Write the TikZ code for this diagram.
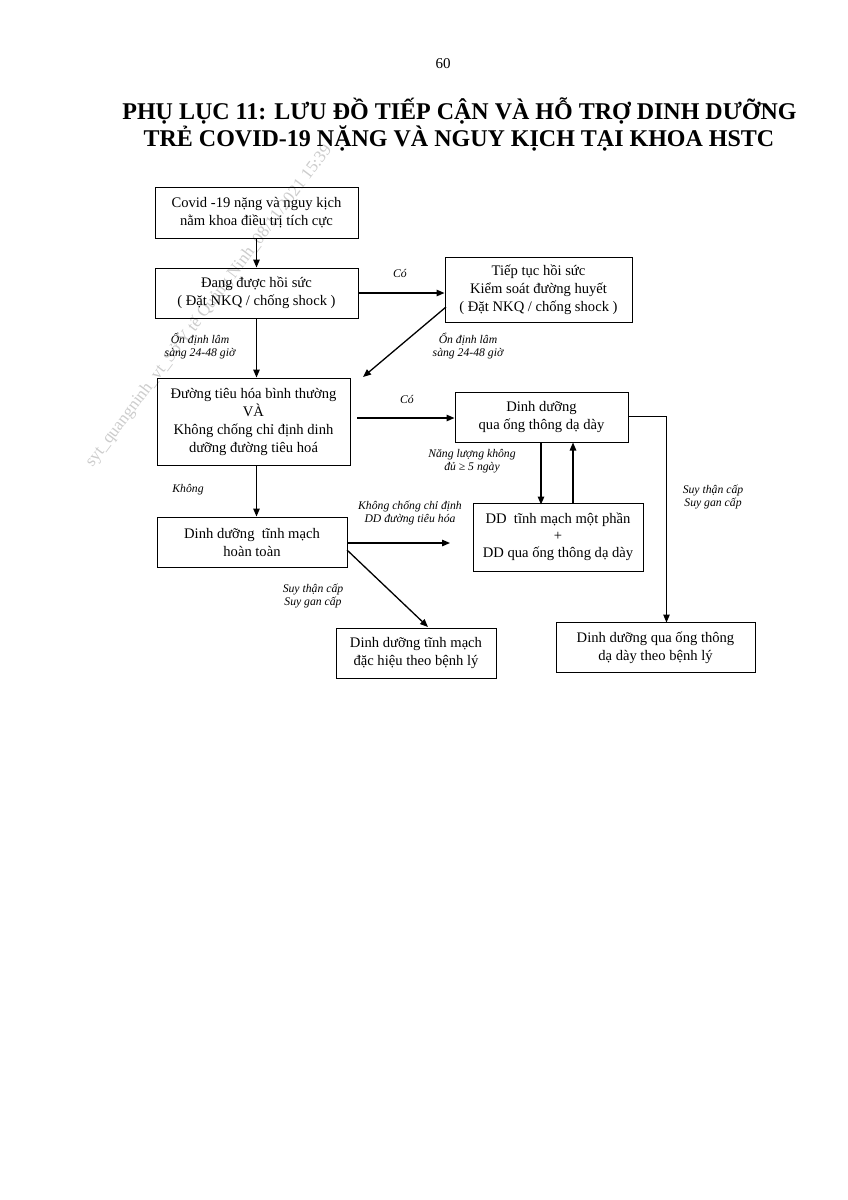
\documentclass[tikz,border=0pt]{standalone}
\usepackage{fontspec}
\setmainfont{Liberation Serif}
\usetikzlibrary{arrows.meta}
\begin{document}
\begin{tikzpicture}[x=1pt,y=-1pt,
  box/.style={draw,line width=1pt,inner sep=0pt,align=center,font=\fontsize{14.6}{18}\selectfont},
  lbl/.style={align=center,inner sep=0pt,font=\fontsize{11.7}{13.5}\selectfont\itshape},
  arr/.style={line width=1.3pt,-{Triangle[length=8pt,width=6.5pt]}},
  thin arr/.style={line width=1pt,-{Triangle[length=8pt,width=6.5pt]}}]
\useasboundingbox (0,0) rectangle (848,1200);
\fill[white] (0,0) rectangle (848,1200);
% watermark
\node[rotate=53,text=gray!40,font=\fontsize{17}{19}\selectfont] (wm) at (209,306) {syt\_quangninh\_vt\_Sở Y tế Quảng Ninh\_08/11/2021 15:39};
% page number and title
\node[anchor=base,font=\fontsize{15}{18}\selectfont] (pg) at (443,68) {60};
\node[anchor=base,font=\fontsize{24}{27}\selectfont\bfseries] (t1) at (459.5,119) {PHỤ LỤC 11: LƯU ĐỒ TIẾP CẬN VÀ HỖ TRỢ DINH DƯỠNG};
\node[anchor=base,font=\fontsize{24}{27}\selectfont\bfseries] (t2) at (459,146) {TRẺ COVID-19 NẶNG VÀ NGUY KỊCH TẠI KHOA HSTC};
% boxes
\node[box,minimum width=203,minimum height=51] (b1) at (256.5,212.5) {Covid -19 nặng và nguy kịch\\nằm khoa điều trị tích cực};
\node[box,minimum width=203,minimum height=50] (b2) at (256.5,293) {Đang được hồi sức\\( Đặt NKQ / chống shock )};
\node[box,minimum width=187,minimum height=65] (b3) at (538.5,289.5) {Tiếp tục hồi sức\\Kiểm soát đường huyết\\( Đặt NKQ / chống shock )};
\node[box,minimum width=193,minimum height=87] (b4) at (253.5,421.5) {Đường tiêu hóa bình thường\\VÀ\\Không chống chỉ định dinh\\dưỡng đường tiêu hoá};
\node[box,minimum width=173,minimum height=50] (b5) at (541.5,417) {Dinh dưỡng\\qua ống thông dạ dày};
\node[box,minimum width=170,minimum height=68,font=\fontsize{14.6}{17}\selectfont] (b6) at (558,537) {DD\ \ tĩnh mạch một phần\\+\\DD qua ống thông dạ dày};
\node[box,minimum width=190,minimum height=50] (b7) at (252,542) {Dinh dưỡng\ \ tĩnh mạch\\hoàn toàn};
\node[box,minimum width=160,minimum height=50] (b8) at (416,653) {Dinh dưỡng tĩnh mạch\\đặc hiệu theo bệnh lý};
\node[box,minimum width=199,minimum height=50] (b9) at (655.5,647.5) {Dinh dưỡng qua ống thông\\dạ dày theo bệnh lý};
% connector helper points
\coordinate (c3s) at (446,307);
\coordinate (c4e) at (363,377);
\coordinate (c4s) at (357,418);
\coordinate (c7e) at (450,543);
\coordinate (c7s) at (347,550);
\coordinate (c8e) at (428,627);
\coordinate (c5s) at (628,416);
\coordinate (c5c) at (666.5,416);
\coordinate (c9e) at (666.5,622.5);
\coordinate (c56) at (541,442);
\coordinate (c65) at (573,503);
% connectors
\draw[arr] (b1.south) -- (b2.north);
\draw[arr] (b2.east) -- (b3.west |- b2.east);
\draw[arr] (b2.south) -- (b4.north -| b2.south);
\draw[arr] (c3s) -- (c4e);
\draw[arr] (c4s) -- (c4s -| b5.west);
\draw[arr] (b4.south -| b2.south) -- (b7.north -| b2.south);
\draw[arr] (c56) -- ([yshift=-2pt]c56 |- b6.north);
\draw[arr] (c65) -- (c65 |- b5.south);
\draw[arr] (b7.east |- c7e) -- (c7e);
\draw[arr] (c7s) -- (c8e);
\draw[thin arr] (c5s) -- (c5c) -- (c9e);
% labels
\node[lbl] (l1) at (400,273) {Có};
\node[lbl] (l2) at (200,346) {Ổn định lâm\\sàng 24-48 giờ};
\node[lbl] (l3) at (468,346) {Ổn định lâm\\sàng 24-48 giờ};
\node[lbl] (l4) at (407,399) {Có};
\node[lbl] (l5) at (472,461) {Năng lượng không\\đủ ≥ 5 ngày};
\node[lbl] (l6) at (188,490) {Không};
\node[lbl] (l7) at (410,513) {Không chống chỉ định\\DD đường tiêu hóa};
\node[lbl] (l8) at (313,596) {Suy thận cấp\\Suy gan cấp};
\node[lbl] (l9) at (713,497) {Suy thận cấp\\Suy gan cấp};
\end{tikzpicture}
\end{document}
